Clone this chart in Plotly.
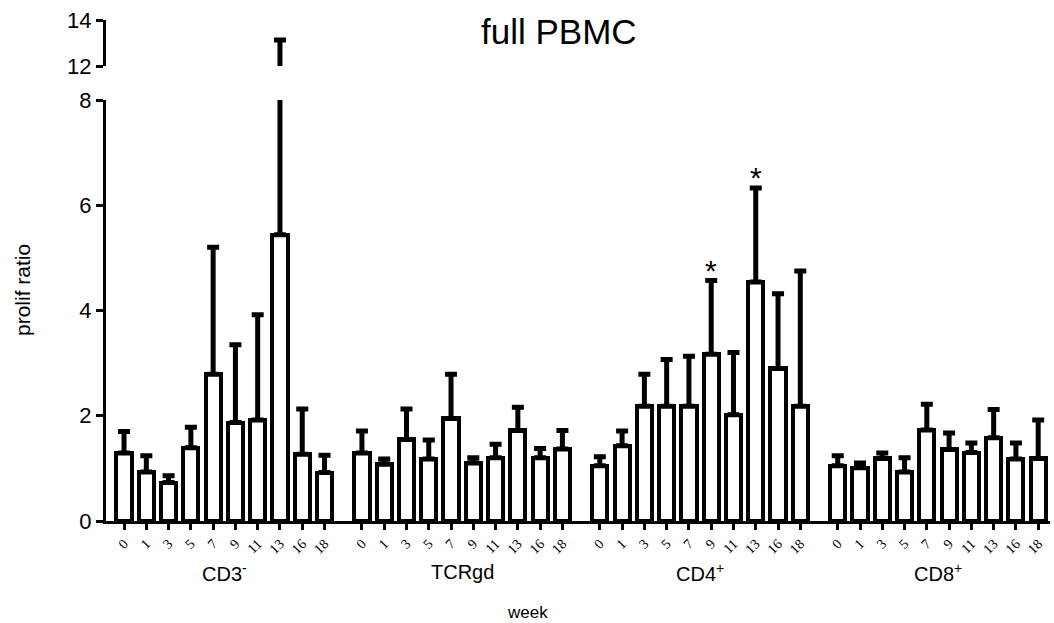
import plotly.graph_objects as go

# ---------------- data ----------------
weeks = ["0", "1", "3", "5", "7", "9", "11", "13", "16", "18"]
groups = ["CD3<sup>-</sup>", "TCRgd", "CD4<sup>+</sup>", "CD8<sup>+</sup>"]

mean_cd3neg = [1.29, 0.93, 0.73, 1.39, 2.79, 1.87, 1.92, 5.44, 1.27, 0.92]
err_cd3neg = [0.41, 0.31, 0.13, 0.39, 2.41, 1.48, 2.00, 7.69, 0.86, 0.33]

mean_tcrgd = [1.29, 1.08, 1.55, 1.18, 1.95, 1.10, 1.20, 1.72, 1.20, 1.37]
err_tcrgd = [0.42, 0.10, 0.58, 0.36, 0.84, 0.10, 0.26, 0.44, 0.18, 0.35]

mean_cd4 = [1.05, 1.43, 2.18, 2.18, 2.18, 3.17, 2.02, 4.54, 2.90, 2.18]
err_cd4 = [0.17, 0.28, 0.61, 0.89, 0.95, 1.40, 1.18, 1.79, 1.42, 2.57]

mean_cd8 = [1.05, 1.01, 1.19, 0.93, 1.73, 1.36, 1.30, 1.58, 1.18, 1.19]
err_cd8 = [0.19, 0.09, 0.10, 0.27, 0.49, 0.31, 0.18, 0.54, 0.30, 0.73]

# significant bars: (group index, week label)
significant = [(2, "9"), (2, "13")]

means = [mean_cd3neg, mean_tcrgd, mean_cd4, mean_cd8]
errs = [err_cd3neg, err_tcrgd, err_cd4, err_cd8]

# ---------------- layout helpers ----------------
PERIOD = 10.68  # group spacing in bar units
FONT = "Arial, Liberation Sans, sans-serif"
SERIF = "Liberation Serif, Times New Roman, serif"

xs_all, ticktext = [], []
for g in range(len(groups)):
    for i, w in enumerate(weeks):
        xs_all.append(g * PERIOD + i)
        ticktext.append(w)

fig = go.Figure()
for g in range(len(groups)):
    xs = [g * PERIOD + i for i in range(len(weeks))]
    for yax in ("y", "y2"):
        fig.add_trace(go.Bar(
            x=xs, y=means[g], yaxis=yax, xaxis="x",
            width=0.68,
            marker=dict(color="white", line=dict(color="black", width=4)),
            error_y=dict(type="data", symmetric=False, array=errs[g],
                         arrayminus=[0] * len(weeks),
                         color="black", thickness=5, width=6),
            showlegend=False, hoverinfo="skip",
        ))

lower_top = (521 - 100) / 501
upper_bot = (521 - 66) / 501

fig.update_layout(
    template="none",
    width=1054, height=623,
    margin=dict(l=106, r=4, t=20, b=102),
    paper_bgcolor="white", plot_bgcolor="white",
    bargap=0, showlegend=False,
    font=dict(family=FONT, color="black"),
    yaxis=dict(
        domain=[0, lower_top], range=[0, 8],
        tickvals=[0, 2, 4, 6, 8], ticks="outside", ticklen=7, tickwidth=3,
        tickcolor="black", tickfont=dict(size=22, color="black"),
        showline=True, linewidth=3, linecolor="black",
        showgrid=False, zeroline=False, anchor="x", automargin=False,
    ),
    yaxis2=dict(
        domain=[upper_bot, 1], range=[12, 14],
        tickvals=[12, 14], ticks="outside", ticklen=7, tickwidth=3,
        tickcolor="black", tickfont=dict(size=22, color="black"),
        showline=True, linewidth=3, linecolor="black",
        showgrid=False, zeroline=False, anchor="x", automargin=False,
    ),
)
fig.update_xaxes(
    range=[-0.81, 3 * PERIOD + 9.53],
    tickmode="array", tickvals=xs_all, ticktext=ticktext,
    tickfont=dict(family=SERIF, size=14, color="black"),
    ticks="outside", ticklen=6, tickwidth=2.5, tickcolor="black",
    showline=True, linewidth=3, linecolor="black",
    showgrid=False, zeroline=False, anchor="y", automargin=False,
    tickangle=-45,
)

# significance stars
for g, w in significant:
    i = weeks.index(w)
    fig.add_annotation(x=g * PERIOD + i, y=means[g][i] + errs[g][i],
                       xref="x", yref="y", text="*", showarrow=False,
                       xanchor="center", yanchor="bottom", yshift=-8,
                       font=dict(size=30, family=FONT, color="black"))

# title and axis titles
fig.add_annotation(text="full PBMC", xref="paper", yref="paper",
                   x=(559 - 106) / 944, y=(521 - 32) / 501,
                   xanchor="center", yanchor="middle", showarrow=False,
                   font=dict(size=35, family=FONT, color="black"))
fig.add_annotation(text="week", xref="paper", yref="paper",
                   x=(527 - 106) / 944, y=(521 - 612) / 501,
                   xanchor="center", yanchor="middle", showarrow=False,
                   font=dict(size=17, family=FONT, color="black"))
fig.add_annotation(text="prolif ratio", xref="paper", yref="paper",
                   x=(22 - 106) / 944, y=(521 - 290) / 501, textangle=-90,
                   xanchor="center", yanchor="middle", showarrow=False,
                   font=dict(size=21, family=FONT, color="black"))
for g, name in enumerate(groups):
    fig.add_annotation(text=name, xref="x", yref="paper",
                       x=g * PERIOD + 4.5, y=(521 - 572) / 501,
                       xanchor="center", yanchor="middle", showarrow=False,
                       font=dict(size=20, family=FONT, color="black"))

fig.write_html("out.html")
